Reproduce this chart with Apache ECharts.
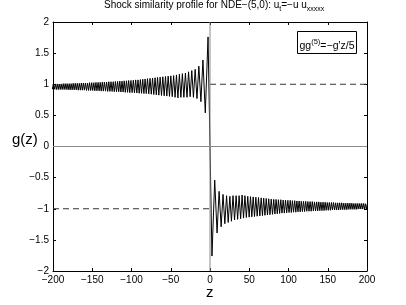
<!DOCTYPE html>
<html>
<head>
<meta charset="utf-8">
<script src="https://cdn.jsdelivr.net/npm/echarts@6/dist/echarts.min.js"></script>
<style>html,body{margin:0;padding:0;background:#fff;}#c{width:406px;height:305px;}</style>
</head>
<body>
<div id="c"></div>
<script>
// Oscillation extrema (left half, z <= 0)
const zLeft = [0,
 -2.5, -6.0, -9.0, -11.6, -14.2, -16.6, -18.9, -21.1, -23.2, -25.3,
 -27.3, -29.3, -31.3, -33.3, -35.2, -37.1, -39.0, -40.9, -42.7, -44.5,
 -46.3, -48.1, -49.9, -51.6, -53.3, -55.0, -56.7, -58.4, -60.1, -61.8,
 -63.5, -65.2, -66.8, -68.4, -70.0, -71.6, -73.2, -74.8, -76.4, -78.0,
 -79.6, -81.2, -82.7, -84.2, -85.7, -87.2, -88.7, -90.2, -91.7, -93.2,
 -94.7, -96.2, -97.7, -99.2, -100.7, -102.2, -103.6, -105.0, -106.4, -107.9,
 -109.3, -110.7, -112.1, -113.5, -114.9, -116.3, -117.7, -119.1, -120.5, -121.9,
 -123.3, -124.7, -126.1, -127.5, -128.9, -130.3, -131.7, -133.1, -134.5, -135.9,
 -137.2, -138.6, -139.9, -141.3, -142.6, -144.0, -145.3, -146.7, -148.0, -149.4,
 -150.7, -152.0, -153.4, -154.7, -156.0, -157.3, -158.7, -160.0, -161.3, -162.6,
 -163.9, -165.2, -166.5, -167.8, -169.1, -170.4, -171.7, -173.0, -174.3, -175.6,
 -176.9, -178.2, -179.4, -180.7, -182.0, -183.3, -184.5, -185.8, -187.0, -188.3,
 -189.6, -190.8, -192.1, -193.3, -194.6, -195.8, -197.1, -198.3, -199.6, -200.8];
const gLeft = [0,
 1.76, 0.54, 1.39, 0.72, 1.29, 0.77, 1.24, 0.79, 1.22, 0.80,
 1.20, 0.79, 1.18, 0.79, 1.17, 0.79, 1.16, 0.78, 1.15, 0.79,
 1.14, 0.80, 1.135, 0.805, 1.13, 0.81, 1.125, 0.815, 1.12, 0.82,
 1.115, 0.825, 1.11, 0.83, 1.105, 0.835, 1.10, 0.84, 1.095, 0.845,
 1.09, 0.85, 1.085, 0.85, 1.08, 0.855, 1.075, 0.855, 1.07, 0.86,
 1.07, 0.86, 1.065, 0.865, 1.06, 0.865, 1.06, 0.87, 1.055, 0.87,
 1.055, 0.875, 1.05, 0.875, 1.05, 0.88, 1.045, 0.88, 1.045, 0.88,
 1.04, 0.885, 1.04, 0.885, 1.04, 0.885, 1.035, 0.89, 1.035, 0.89,
 1.035, 0.89, 1.03, 0.895, 1.03, 0.895, 1.03, 0.895, 1.025, 0.90,
 1.025, 0.90, 1.025, 0.90, 1.02, 0.90, 1.02, 0.905, 1.02, 0.905,
 1.02, 0.905, 1.015, 0.905, 1.015, 0.91, 1.015, 0.91, 1.015, 0.91,
 1.01, 0.91, 1.01, 0.91, 1.01, 0.915, 1.01, 0.915, 1.01, 0.915,
 1.005, 0.915, 1.005, 0.915, 1.005, 0.915, 1.005, 0.92, 1.005, 0.92];
// Right half, z >= 0
const zRight = [0,
 2.5, 6.0, 9.0, 11.6, 14.2, 16.6, 18.9, 21.1, 23.2, 25.3,
 27.3, 29.3, 31.3, 33.3, 35.2, 37.1, 39.0, 40.9, 42.7, 44.5,
 46.3, 48.1, 49.9, 51.6, 53.3, 55.0, 56.7, 58.4, 60.1, 61.8,
 63.5, 65.2, 66.8, 68.4, 70.0, 71.6, 73.2, 74.8, 76.4, 78.0,
 79.6, 81.2, 82.7, 84.2, 85.7, 87.2, 88.7, 90.2, 91.7, 93.2,
 94.7, 96.2, 97.7, 99.2, 100.7, 102.2, 103.6, 105.0, 106.4, 107.9,
 109.3, 110.7, 112.1, 113.5, 114.9, 116.3, 117.7, 119.1, 120.5, 121.9,
 123.3, 124.7, 126.1, 127.5, 128.9, 130.3, 131.7, 133.1, 134.5, 135.9,
 137.2, 138.6, 139.9, 141.3, 142.6, 144.0, 145.3, 146.7, 148.0, 149.4,
 150.7, 152.0, 153.4, 154.7, 156.0, 157.3, 158.7, 160.0, 161.3, 162.6,
 163.9, 165.2, 166.5, 167.8, 169.1, 170.4, 171.7, 173.0, 174.3, 175.6,
 176.9, 178.2, 179.4, 180.7, 182.0, 183.3, 184.5, 185.8, 187.0, 188.3,
 189.6, 190.8, 192.1, 193.3, 194.6, 195.8, 197.1, 198.3, 199.6, 200.8];
const gRight = [0,
 -1.76, -0.54, -1.39, -0.72, -1.29, -0.77, -1.24, -0.79, -1.22, -0.80,
 -1.20, -0.79, -1.18, -0.79, -1.17, -0.79, -1.16, -0.78, -1.15, -0.79,
 -1.14, -0.80, -1.135, -0.805, -1.13, -0.81, -1.125, -0.815, -1.12, -0.82,
 -1.115, -0.825, -1.11, -0.83, -1.105, -0.835, -1.10, -0.84, -1.095, -0.845,
 -1.09, -0.85, -1.085, -0.85, -1.08, -0.855, -1.075, -0.855, -1.07, -0.86,
 -1.07, -0.86, -1.065, -0.865, -1.06, -0.865, -1.06, -0.87, -1.055, -0.87,
 -1.055, -0.875, -1.05, -0.875, -1.05, -0.88, -1.045, -0.88, -1.045, -0.88,
 -1.04, -0.885, -1.04, -0.885, -1.04, -0.885, -1.035, -0.89, -1.035, -0.89,
 -1.035, -0.89, -1.03, -0.895, -1.03, -0.895, -1.03, -0.895, -1.025, -0.90,
 -1.025, -0.90, -1.025, -0.90, -1.02, -0.90, -1.02, -0.905, -1.02, -0.905,
 -1.02, -0.905, -1.015, -0.905, -1.015, -0.91, -1.015, -0.91, -1.015, -0.91,
 -1.01, -0.91, -1.01, -0.91, -1.01, -0.915, -1.01, -0.915, -1.01, -0.915,
 -1.005, -0.915, -1.005, -0.915, -1.005, -0.915, -1.005, -0.92, -1.005, -0.92];
// Reference lines
const dashUpperX = [0, 200], dashUpperY = [1, 1];
const dashLowerX = [-200, 0], dashLowerY = [-1, -1];
const xTicks = [-200, -150, -100, -50, 0, 50, 100, 150, 200];
const yTicks = [-2, -1.5, -1, -0.5, 0, 0.5, 1, 1.5, 2];

const FONT = '"Liberation Sans", Arial, Helvetica, sans-serif';
const pairs = (xs, ys) => xs.map((x, i) => [x, ys[i]]);
const minus = v => String(v).replace('-', '\u2212');

const chart = echarts.init(document.getElementById('c'), null, {renderer: 'canvas'});
const baseX = {
  type: 'value', min: xTicks[0], max: xTicks[xTicks.length - 1], interval: 50,
  axisLine: {show: true, onZero: false, lineStyle: {color: '#000', width: 1}},
  axisTick: {show: true, inside: true, length: 3, lineStyle: {color: '#000'}},
  splitLine: {show: false}
};
const baseY = {
  type: 'value', min: yTicks[0], max: yTicks[yTicks.length - 1], interval: 0.5,
  axisLine: {show: true, onZero: false, lineStyle: {color: '#000', width: 1}},
  axisTick: {show: true, inside: true, length: 3, lineStyle: {color: '#000'}},
  splitLine: {show: false}
};
chart.setOption({
  animation: false,
  backgroundColor: '#fff',
  title: {
    left: 104, top: 0, padding: 0,
    text: '{a|Shock similarity profile for NDE\u2212(5,0): u}{s|t}{a|=\u2212u u}{s|xxxxx}',
    textStyle: {
      fontWeight: 'normal',
      rich: {
        a: {fontSize: 10, fontWeight: 'normal', fontFamily: FONT, color: '#000', lineHeight: 13, verticalAlign: 'bottom', padding: [0, 0, 3, 0]},
        s: {fontSize: 7, fontWeight: 'normal', fontFamily: FONT, color: '#000', lineHeight: 9, verticalAlign: 'bottom'}
      }
    }
  },
  grid: {left: 53, right: 39, top: 22, bottom: 34, containLabel: false},
  xAxis: [
    Object.assign({}, baseX, {position: 'bottom',
      axisLabel: {show: true, color: '#000', fontSize: 10, fontFamily: FONT, margin: 4, formatter: minus}}),
    Object.assign({}, baseX, {position: 'top', axisLabel: {show: false}})
  ],
  yAxis: [
    Object.assign({}, baseY, {position: 'left',
      axisLabel: {show: true, color: '#000', fontSize: 10, fontFamily: FONT, margin: 4, formatter: minus}}),
    Object.assign({}, baseY, {position: 'right', axisLabel: {show: false}})
  ],
  series: [
    {type: 'line', data: pairs(zLeft, gLeft), symbol: 'none', lineStyle: {color: '#000', width: 1}, sampling: null, z: 3},
    {type: 'line', data: pairs(zRight, gRight), symbol: 'none', lineStyle: {color: '#000', width: 1}, sampling: null, z: 3},
    {type: 'line', data: [[xTicks[0], 0], [xTicks[xTicks.length - 1], 0]], symbol: 'none', lineStyle: {color: '#8a8a8a', width: 1}, z: 4},
    {type: 'line', data: [[0, yTicks[0]], [0, yTicks[yTicks.length - 1]]], symbol: 'none', lineStyle: {color: '#8a8a8a', width: 1}, z: 4},
    {type: 'line', data: pairs(dashUpperX, dashUpperY), symbol: 'none', lineStyle: {color: '#333', width: 1, type: [6, 4]}, z: 2},
    {type: 'line', data: pairs(dashLowerX, dashLowerY), symbol: 'none', lineStyle: {color: '#333', width: 1, type: [6, 4]}, z: 2}
  ],
  graphic: [
    {type: 'text', left: 12, top: 132, style: {text: 'g(z)', font: '15px ' + FONT, fill: '#000'}},
    {type: 'text', left: 206, top: 285, style: {text: 'z', font: '15px ' + FONT, fill: '#000'}},
    {type: 'rect', shape: {x: 297.5, y: 31.5, width: 59, height: 22}, style: {fill: '#fff', stroke: '#000', lineWidth: 1}, z: 10},
    {type: 'text', x: 327, y: 43, z: 11, style: {
      text: '{a|gg}{p|(5)}{a|=\u2212g\'z/5}', align: 'center', verticalAlign: 'middle',
      rich: {
        a: {fontSize: 10.5, fontFamily: FONT, fill: '#000', lineHeight: 11, verticalAlign: 'top', padding: [3, 0, 0, 0]},
        p: {fontSize: 7.5, fontFamily: FONT, fill: '#000', lineHeight: 8, verticalAlign: 'top'}
      }}}
  ]
});
</script>
</body>
</html>
